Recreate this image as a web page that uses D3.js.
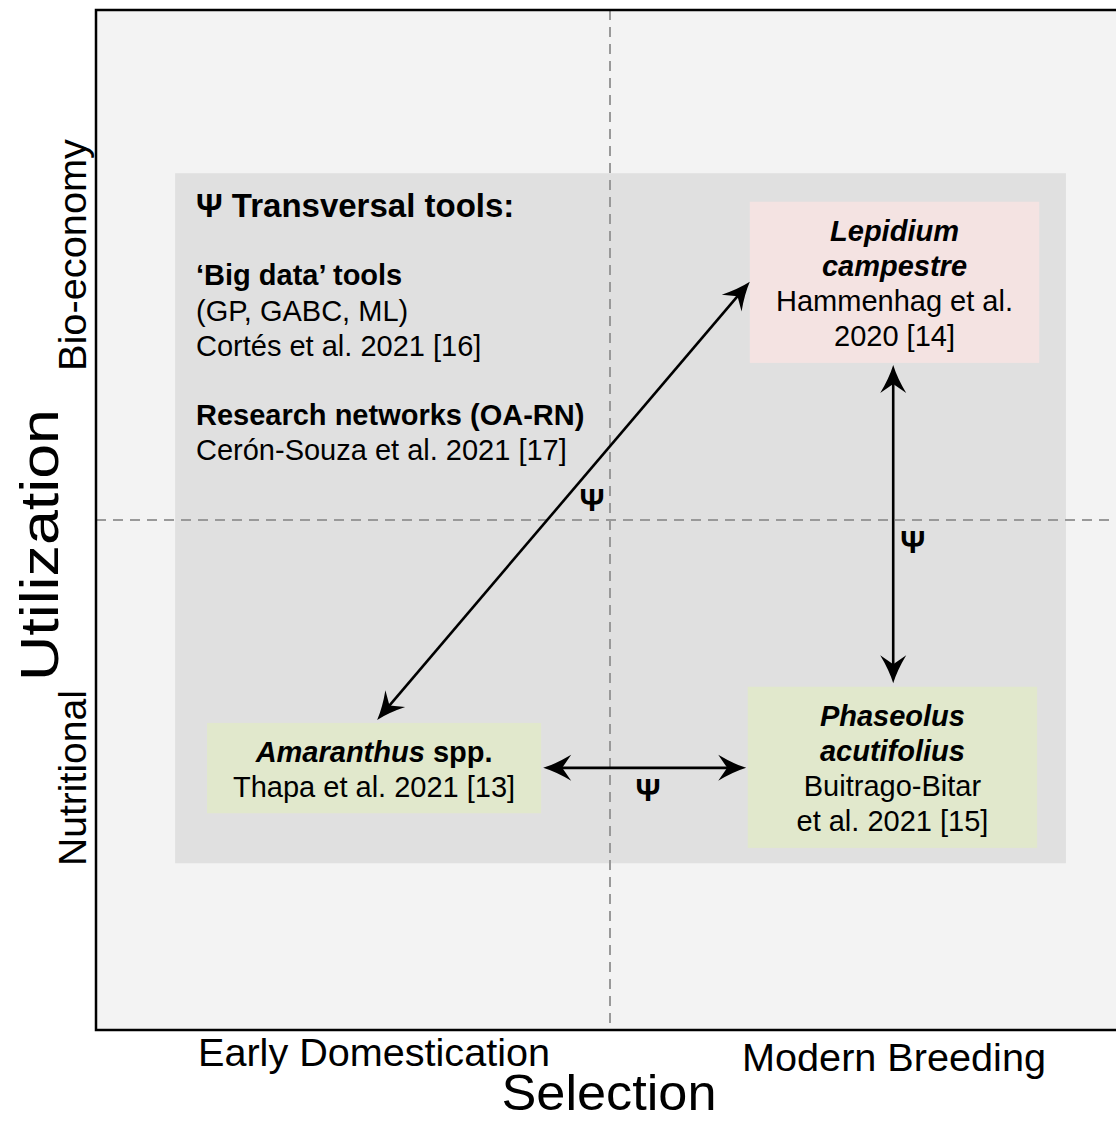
<!DOCTYPE html>
<html lang="en">
<head>
<meta charset="UTF-8">
<script src="https://d3js.org/d3.v7.min.js"></script>
<title>Selection vs Utilization</title>
<style>
  body { margin: 0; background: #fff; }
  text { font-family: "Liberation Sans", Arial, Helvetica, sans-serif; fill: #000; }
</style>
</head>
<body>
<script>
// quadrant coordinates: x = Selection (-1 early .. 1 modern), y = Utilization (-1 nutritional .. 1 bio-economy)
const panel = { x0: -0.846, x1: 0.887, y0: -0.673, y1: 0.680 };

const boxes = [
  { id: "lep", x0: 0.272, x1: 0.835, y0: 0.308, y1: 0.624, fill: "#f4e3e2" },
  { id: "ama", x0: -0.784, x1: -0.134, y0: -0.575, y1: -0.398, fill: "#e1e8cc" },
  { id: "pha", x0: 0.268, x1: 0.831, y0: -0.643, y1: -0.327, fill: "#e1e8cc" }
];

// each line: list of [text, style] pieces; style b = bold, bi = bold italic, r = regular
const boxText = {
  lep: [[["Lepidium", "bi"]], [["campestre", "bi"]], [["Hammenhag et al.", "r"]], [["2020 [14]", "r"]]],
  ama: [[["Amaranthus", "bi"], [" spp.", "b"]], [["Thapa et al. 2021 [13]", "r"]]],
  pha: [[["Phaseolus", "bi"]], [["acutifolius", "bi"]], [["Buitrago-Bitar", "r"]], [["et al. 2021 [15]", "r"]]]
};

// transversal tools: text, style, baseline
const toolLines = [
  ["Ψ Transversal tools:", "title", 217],
  ["‘Big data’ tools", "b", 285],
  ["(GP, GABC, ML)", "r", 321],
  ["Cortés et al. 2021 [16]", "r", 356],
  ["Research networks (OA-RN)", "b", 425],
  ["Cerón-Souza et al. 2021 [17]", "r", 460]
];

const arrows = [
  { from: [-0.453, -0.392], to: [0.272, 0.467], psi: [-0.035, 0.039] },
  { from: [0.551, -0.320], to: [0.551, 0.304], psi: [0.589, -0.043] },
  { from: [-0.130, -0.486], to: [0.265, -0.486], psi: [0.074, -0.529] }
];

const xLabels = ["Early Domestication", "Modern Breeding"];
const yLabels = ["Nutritional", "Bio-economy"];

const width = 1116, height = 1121;
const x = d3.scaleLinear().domain([-1, 1]).range([96, 1124]);
const y = d3.scaleLinear().domain([-1, 1]).range([1030, 10]);

const svg = d3.select("body").append("svg")
  .attr("width", width)
  .attr("height", height)
  .attr("viewBox", [0, 0, width, height]);

svg.append("defs").append("marker")
  .attr("id", "head")
  .attr("viewBox", "-30 -14 32 28")
  .attr("markerUnits", "userSpaceOnUse")
  .attr("markerWidth", 32)
  .attr("markerHeight", 28)
  .attr("refX", -8)
  .attr("refY", 0)
  .attr("orient", "auto-start-reverse")
  .append("path")
  .attr("d", "M0,0 Q-13,-4 -28,-13 L-19,0 L-28,13 Q-13,4 0,0 Z")
  .attr("fill", "#000");

// plot background
svg.append("rect")
  .attr("x", x(-1)).attr("y", y(1))
  .attr("width", x(1) - x(-1)).attr("height", y(-1) - y(1))
  .attr("fill", "#f3f3f3");

svg.append("rect")
  .attr("x", x(panel.x0)).attr("y", y(panel.y1))
  .attr("width", x(panel.x1) - x(panel.x0)).attr("height", y(panel.y0) - y(panel.y1))
  .attr("fill", "#e0e0e0");

// quadrant dashes
svg.append("line")
  .attr("x1", x(0)).attr("x2", x(0)).attr("y1", y(1)).attr("y2", y(-1))
  .attr("stroke", "#999").attr("stroke-width", 2).attr("stroke-dasharray", "10,7");
svg.append("line")
  .attr("x1", x(-1)).attr("x2", x(1)).attr("y1", y(0)).attr("y2", y(0))
  .attr("stroke", "#999").attr("stroke-width", 2).attr("stroke-dasharray", "10,7");

// species boxes
svg.selectAll("rect.box").data(boxes).join("rect")
  .attr("class", "box")
  .attr("x", d => x(d.x0)).attr("y", d => y(d.y1))
  .attr("width", d => x(d.x1) - x(d.x0)).attr("height", d => y(d.y0) - y(d.y1))
  .attr("fill", d => d.fill);

const lineH = 35;
boxes.forEach(b => {
  const lines = boxText[b.id];
  const cx = (x(b.x0) + x(b.x1)) / 2;
  const cy = (y(b.y0) + y(b.y1)) / 2;
  const first = cy - (lines.length - 1) * lineH / 2 + 11;
  lines.forEach((parts, i) => {
    const t = svg.append("text")
      .attr("x", cx).attr("y", first + i * lineH)
      .attr("text-anchor", "middle")
      .attr("font-size", 29);
    parts.forEach(([s, st]) => {
      t.append("tspan")
        .attr("font-weight", st === "r" ? "normal" : "bold")
        .attr("font-style", st === "bi" ? "italic" : "normal")
        .text(s);
    });
  });
});

// transversal tools list
svg.selectAll("text.tool").data(toolLines).join("text")
  .attr("class", "tool")
  .attr("x", 196).attr("y", d => d[2])
  .attr("font-size", d => d[1] === "title" ? 33 : 29)
  .attr("font-weight", d => d[1] === "r" ? "normal" : "bold")
  .text(d => d[0]);

// double arrows with psi labels
const shorten = 8;
arrows.forEach(a => {
  const x1 = x(a.from[0]), y1 = y(a.from[1]);
  const x2 = x(a.to[0]), y2 = y(a.to[1]);
  const len = Math.hypot(x2 - x1, y2 - y1);
  const ux = (x2 - x1) / len, uy = (y2 - y1) / len;
  svg.append("line")
    .attr("x1", x1 + ux * shorten).attr("y1", y1 + uy * shorten)
    .attr("x2", x2 - ux * shorten).attr("y2", y2 - uy * shorten)
    .attr("stroke", "#000").attr("stroke-width", 2.6)
    .attr("marker-start", "url(#head)")
    .attr("marker-end", "url(#head)");
  svg.append("text")
    .attr("x", x(a.psi[0])).attr("y", y(a.psi[1]) + 11)
    .attr("text-anchor", "middle")
    .attr("font-size", 31).attr("font-weight", "bold")
    .text("Ψ");
});

// frame (right edge falls outside the picture)
svg.append("rect")
  .attr("x", x(-1)).attr("y", y(1))
  .attr("width", x(1) - x(-1)).attr("height", y(-1) - y(1))
  .attr("fill", "none").attr("stroke", "#000").attr("stroke-width", 2.5);

// axis labels
svg.append("text").attr("x", 374).attr("y", 1066).attr("text-anchor", "middle")
  .attr("font-size", 38).attr("textLength", 352).attr("lengthAdjust", "spacingAndGlyphs")
  .text(xLabels[0]);
svg.append("text").attr("x", 894).attr("y", 1071).attr("text-anchor", "middle")
  .attr("font-size", 38).attr("textLength", 304).attr("lengthAdjust", "spacingAndGlyphs")
  .text(xLabels[1]);
svg.append("text").attr("x", 609).attr("y", 1110).attr("text-anchor", "middle")
  .attr("font-size", 50).attr("textLength", 215).attr("lengthAdjust", "spacingAndGlyphs")
  .text("Selection");

svg.append("text").attr("transform", "translate(86,778) rotate(-90)").attr("text-anchor", "middle")
  .attr("font-size", 38).attr("textLength", 176).attr("lengthAdjust", "spacingAndGlyphs")
  .text(yLabels[0]);
svg.append("text").attr("transform", "translate(86,255) rotate(-90)").attr("text-anchor", "middle")
  .attr("font-size", 38).attr("textLength", 232).attr("lengthAdjust", "spacingAndGlyphs")
  .text(yLabels[1]);
svg.append("text").attr("transform", "translate(58,545) rotate(-90)").attr("text-anchor", "middle")
  .attr("font-size", 54).attr("textLength", 272).attr("lengthAdjust", "spacingAndGlyphs")
  .text("Utilization");
</script>
</body>
</html>
